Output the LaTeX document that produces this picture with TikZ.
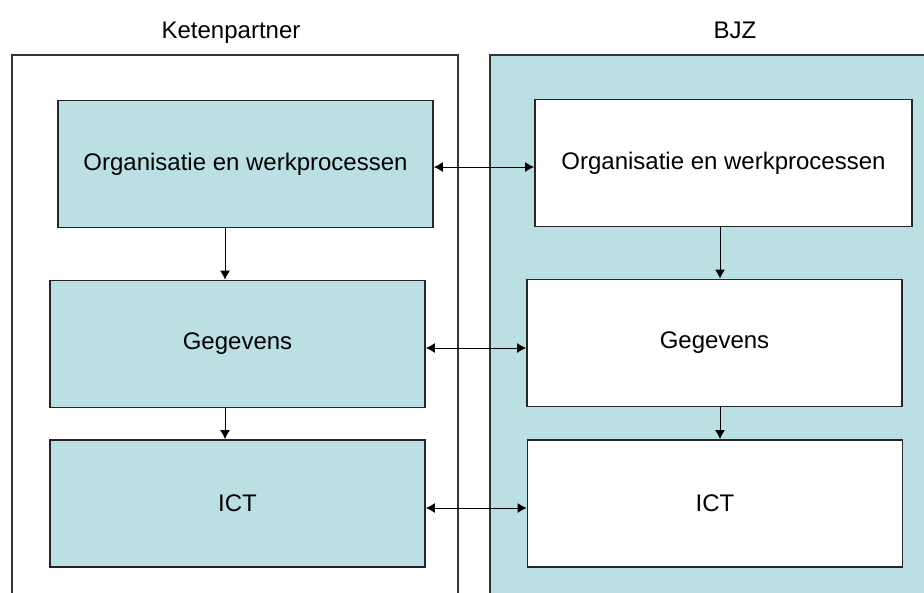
\documentclass[tikz,border=0pt]{standalone}
\usepackage{fontspec}
\setmainfont{Liberation Sans}
\usepackage{xcolor}
\usetikzlibrary{arrows.meta}
\definecolor{ketenblue}{RGB}{187,224,227}

\begin{document}
\begin{tikzpicture}[x=1pt, y=-1pt,
    font=\fontsize{24}{28}\selectfont,
    frame/.style={rectangle, draw=black!80, line width=1.8pt, anchor=north west,
                  minimum width=#1, minimum height=600pt, inner sep=0pt},
    layer/.style={rectangle, draw=black!85, line width=1.8pt,
                  minimum width=375pt, minimum height=127pt, inner sep=0pt},
    arrow/.style={line width=1pt, -{Latex[length=9pt,width=10pt]}},
    twoway/.style={line width=1pt, {Latex[length=9pt,width=10pt]}-{Latex[length=9pt,width=10pt]}}]

\path[use as bounding box, clip] (0,0) rectangle (924,592);
\fill[white] (0,0) rectangle (924,592);

% the two sides
\node[frame=446pt] (kp) at (11,54) {};
\node[frame=500pt, fill=ketenblue] (bjz) at (489,54) {};
\node[anchor=base] (kp-title) at (231,38) {Ketenpartner};
\node[anchor=base] (bjz-title) at (735,38) {BJZ};

% layers, Ketenpartner
\node[layer, fill=ketenblue] (kp-org) at (245.5,164) {Organisatie en werkprocessen};
\node[layer, fill=ketenblue] (kp-geg) at (237.5,344) {Gegevens};
\node[layer, fill=ketenblue] (kp-ict) at (237.5,503.5) {ICT};

% layers, BJZ
\node[layer, fill=white, minimum width=377pt] (bjz-org) at (723.5,163) {Organisatie en werkprocessen};
\node[layer, fill=white] (bjz-geg) at (714.5,343) {Gegevens};
\node[layer, fill=white] (bjz-ict) at (715,503.5) {ICT};

% top-down
\draw[arrow] ([xshift=-20.5pt]kp-org.south) -- ([xshift=-20.5pt]kp-org.south |- kp-geg.north);
\draw[arrow] ([xshift=-12.5pt]kp-geg.south) -- ([xshift=-12.5pt]kp-geg.south |- kp-ict.north);
\draw[arrow] ([xshift=-3.5pt]bjz-org.south) -- ([xshift=-3.5pt]bjz-org.south |- bjz-geg.north);
\draw[arrow] ([xshift=5.5pt]bjz-geg.south) -- ([xshift=5.5pt]bjz-geg.south |- bjz-ict.north);

% between the partners
\draw[twoway] ([yshift=-3pt]kp-org.east) -- ([yshift=-3pt]kp-org.east -| bjz-org.west);
\draw[twoway] ([yshift=-4pt]kp-geg.east) -- ([yshift=-4pt]kp-geg.east -| bjz-geg.west);
\draw[twoway] ([yshift=-4.5pt]kp-ict.east) -- ([yshift=-4.5pt]kp-ict.east -| bjz-ict.west);

\end{tikzpicture}
\end{document}
